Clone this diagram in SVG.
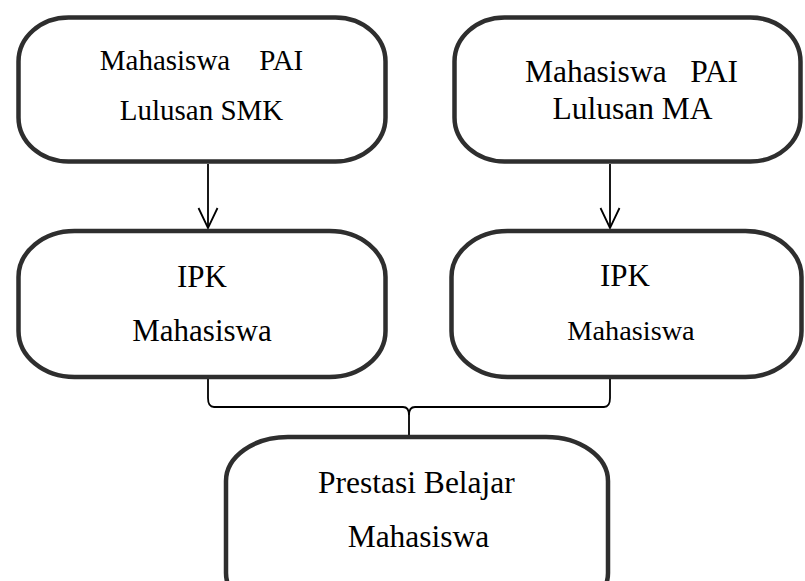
<svg xmlns="http://www.w3.org/2000/svg" width="805" height="581" viewBox="0 0 805 581">
<style>
.box{fill:#fff;stroke:#2e2e2e;stroke-width:4.5}
.t{font-family:"Liberation Serif","Times New Roman",serif;fill:#000;white-space:pre}
.c{fill:none;stroke:#000;stroke-width:1.8}
</style>
<defs>
<marker id="arr" viewBox="0 0 24 24" refX="22" refY="12" markerWidth="24" markerHeight="24" markerUnits="userSpaceOnUse" orient="auto">
<path d="M2 2.5 L22 12 L2 21.5" fill="none" stroke="#000" stroke-width="1.8"/>
</marker>
</defs>
<rect width="805" height="581" fill="#fff"/>
<g id="connectors">
<line class="c" x1="208" y1="164" x2="208" y2="228" marker-end="url(#arr)"/>
<line class="c" x1="610" y1="164" x2="610" y2="228" marker-end="url(#arr)"/>
<path class="c" d="M208 379 L208 398 Q208 407 214 407 L403 407 Q409 407 409 415 L409 436"/>
<path class="c" d="M610 379 L610 398 Q610 407 604 407 L415 407 Q409 407 409 415"/>
</g>
<g id="node-smk">
<rect class="box" x="18.5" y="17.5" width="367" height="144" rx="50" ry="44"/>
<text class="t" font-size="29" text-anchor="middle"><tspan x="201.5" y="70">Mahasiswa    PAI</tspan><tspan x="201.5" y="120">Lulusan SMK</tspan></text>
</g>
<g id="node-ma">
<rect class="box" x="454.5" y="17.5" width="346" height="144" rx="50" ry="44"/>
<text class="t" font-size="31.5" text-anchor="middle"><tspan x="631.5" y="82">Mahasiswa   PAI</tspan><tspan x="632.5" y="119">Lulusan MA</tspan></text>
</g>
<g id="node-ipk-smk">
<rect class="box" x="18.5" y="231" width="367" height="146" rx="56" ry="46"/>
<text class="t" font-size="31" text-anchor="middle"><tspan x="202" y="287">IPK</tspan><tspan x="202" y="341">Mahasiswa</tspan></text>
</g>
<g id="node-ipk-ma">
<rect class="box" x="451.5" y="231" width="350" height="146" rx="56" ry="46"/>
<text class="t" text-anchor="middle"><tspan x="625" y="286" font-size="31">IPK</tspan><tspan x="631" y="340" font-size="28.3">Mahasiswa</tspan></text>
</g>
<g id="node-prestasi">
<rect class="box" x="226" y="437" width="382" height="180" rx="62" ry="44"/>
<text class="t" font-size="31.5"><tspan x="318" y="493">Prestasi Belajar</tspan><tspan x="418.5" y="547" text-anchor="middle">Mahasiswa</tspan></text>
</g>
</svg>
